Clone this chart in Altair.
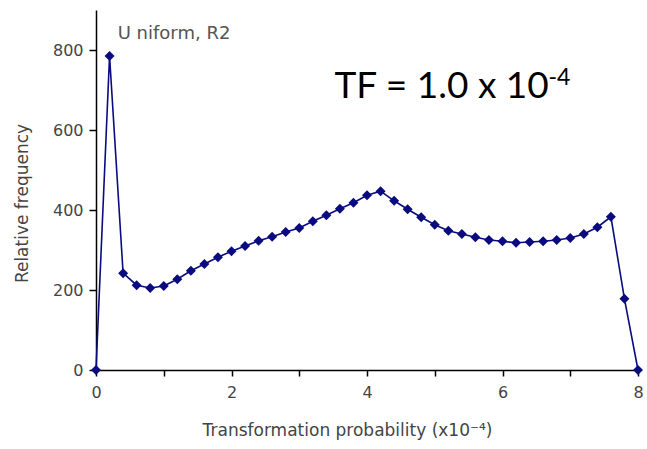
import altair as alt
import pandas as pd

x_vals = [0.0, 0.2, 0.4, 0.6, 0.8, 1.0, 1.2, 1.4, 1.6, 1.8, 2.0, 2.2, 2.4, 2.6, 2.8,
          3.0, 3.2, 3.4, 3.6, 3.8, 4.0, 4.2, 4.4, 4.6, 4.8, 5.0, 5.2, 5.4, 5.6, 5.8,
          6.0, 6.2, 6.4, 6.6, 6.8, 7.0, 7.2, 7.4, 7.6, 7.8, 8.0]
freq = [0, 785, 242, 212, 205, 210, 227, 248, 265, 282, 297, 310, 323, 333, 345,
        355, 372, 387, 403, 418, 437, 447, 423, 402, 382, 363, 348, 340, 332, 325,
        322, 318, 320, 322, 325, 330, 340, 357, 383, 178, 0]

x_ticks = [0, 1, 2, 3, 4, 5, 6, 7, 8]
y_ticks = [0, 100, 200, 300, 400, 500, 600, 700, 800, 900]

df = pd.DataFrame({"x": x_vals, "y": freq})

NAVY = "#0b0b80"
GREY = "#444444"

xscale = alt.Scale(domain=[0, 8], nice=False, zero=False)
yscale = alt.Scale(domain=[0, 900], nice=False)

xaxis = alt.Axis(
    values=x_ticks, format="d",
    labelExpr="datum.value % 2 == 0 ? datum.label : ''",
    labelFlush=False, labelOverlap=False,
    grid=False, domainColor="black", domainWidth=1.5, tickColor="black",
    tickWidth=1.5, tickSize=6, labelPadding=8, labelFont="DejaVu Sans",
    labelFontSize=16, labelColor=GREY,
    title="Transformation probability (x10⁻⁴)", titleFont="DejaVu Sans",
    titleFontSize=17, titleFontWeight="normal", titleColor=GREY,
    titleX=251, titleY=60, titleAlign="center", titleBaseline="middle",
)
yaxis = alt.Axis(
    values=y_ticks, format="d",
    labelExpr="datum.value % 200 == 0 && datum.value < 900 ? datum.label : ''",
    labelFlush=False, labelOverlap=False,
    grid=False, domainColor="black", domainWidth=1.5, tickColor="black",
    tickWidth=1.5, tickSize=7, labelPadding=6, labelFont="DejaVu Sans",
    labelFontSize=16, labelColor=GREY,
    title="Relative frequency", titleFont="DejaVu Sans", titleFontSize=17,
    titleFontWeight="normal", titleColor=GREY,
    titleX=-74, titleY=193, titleAngle=-90, titleAlign="center", titleBaseline="middle",
)

base = alt.Chart(df)
line = base.mark_line(color=NAVY, strokeWidth=1.6).encode(
    x=alt.X("x:Q", scale=xscale, axis=xaxis),
    y=alt.Y("y:Q", scale=yscale, axis=yaxis),
)
pts = base.mark_point(shape="diamond", filled=True, color=NAVY, size=100, opacity=1).encode(
    x=alt.X("x:Q", scale=xscale),
    y=alt.Y("y:Q", scale=yscale),
)

ann = pd.DataFrame({"x": [0.32], "y": [840], "t": ["U niform, R2"]})
label = alt.Chart(ann).mark_text(
    align="left", baseline="middle", font="DejaVu Sans", fontSize=18, color="#555555"
).encode(x=alt.X("x:Q", scale=xscale), y=alt.Y("y:Q", scale=yscale), text="t:N")

tf = pd.DataFrame({"x": [3.52], "y": [680], "t": ["TF = 1.0 x 10"]})
tf_text = alt.Chart(tf).mark_text(
    align="left", baseline="alphabetic", font="Lato", fontSize=37, color="black"
).encode(x=alt.X("x:Q", scale=xscale), y=alt.Y("y:Q", scale=yscale), text="t:N")

sup = pd.DataFrame({"x": [6.68], "y": [712], "t": ["-4"]})
sup_text = alt.Chart(sup).mark_text(
    align="left", baseline="alphabetic", font="Lato", fontSize=23, color="black"
).encode(x=alt.X("x:Q", scale=xscale), y=alt.Y("y:Q", scale=yscale), text="t:N")

chart = alt.layer(line, pts, label, tf_text, sup_text).properties(
    width=542, height=360,
    padding={"left": 96, "top": 10, "right": 9, "bottom": 79},
    autosize=alt.AutoSizeParams(type="none"),
).configure(background="white").configure_view(stroke=None, strokeWidth=0)

chart.save("out.html", embed_options={"renderer": "svg", "actions": False})
